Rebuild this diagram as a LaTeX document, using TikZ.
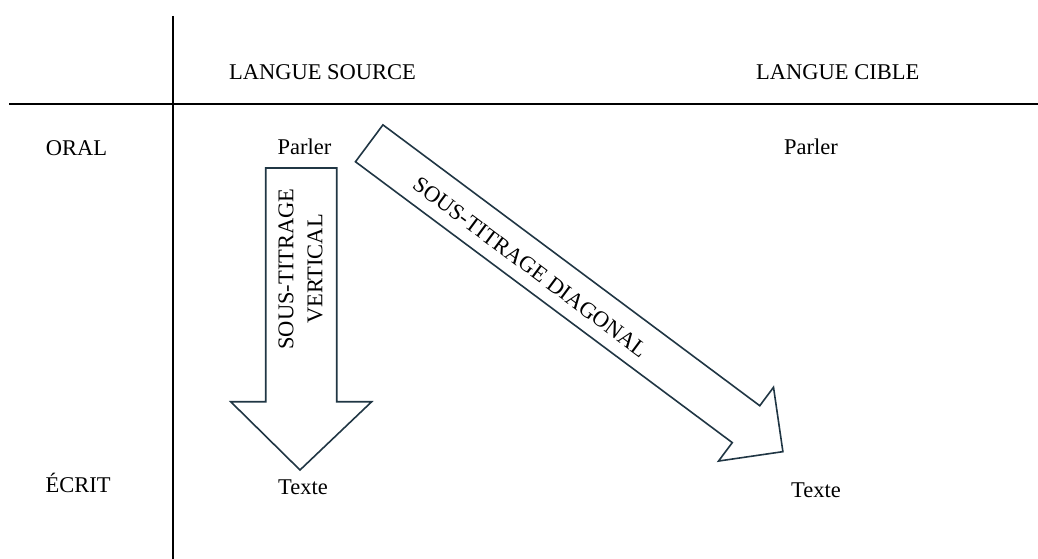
\documentclass[tikz,border=0pt]{standalone}
\usepackage{fontspec}
\setmainfont{Liberation Serif}
\begin{document}
\begin{tikzpicture}[x=1pt,y=-1pt,
  lbl/.style={anchor=base,inner sep=0pt,font=\fontsize{22.5}{28}\selectfont},
  rule/.style={line width=2pt,black},
  bigarrow/.style={line width=1.6pt,draw={rgb,255:red,32;green,54;blue,68},fill=white,line join=miter}]
\useasboundingbox (0,0) rectangle (1038,559);
% grid lines
\draw[rule] (173,16) -- (173,559);
\draw[rule] (9,104.5) -- (1038,104.5);
% headers
\node[lbl] (src) at (322.5,80) {LANGUE SOURCE};
\node[lbl] (cib) at (837.7,80) {LANGUE CIBLE};
\node[lbl] (oral) at (76.5,155) {ORAL};
\node[lbl] (ecrit) at (78,492) {ÉCRIT};
\node[lbl] (parlerL) at (304.5,154) {Parler};
\node[lbl] (parlerR) at (811,154) {Parler};
\node[lbl] (texteL) at (303,494) {Texte};
\node[lbl] (texteR) at (816,497) {Texte};
% vertical arrow
\draw[bigarrow] (265.7,168) -- (336.7,168) -- (336.7,401.7) -- (371.7,401.7)
  -- (300,470) -- (230.7,401.7) -- (265.7,401.7) -- cycle;
\node[inner sep=0pt,rotate=90,align=center,font=\fontsize{22.5}{29}\selectfont] (vtxt) at (300.5,269) {SOUS-TITRAGE\\VERTICAL};
% diagonal arrow
\begin{scope}[shift={(369.2,143.3)},rotate=-36.7]
\draw[bigarrow] (0,-23) -- (470,-23) -- (470,-46) -- (516,0) -- (470,46) -- (470,23) -- (0,23) -- cycle;
\node[inner sep=0pt,rotate=-36.7,font=\fontsize{22.5}{28}\selectfont] (dtxt) at (203,3) {SOUS-TITRAGE DIAGONAL};
\end{scope}
\end{tikzpicture}
\end{document}
